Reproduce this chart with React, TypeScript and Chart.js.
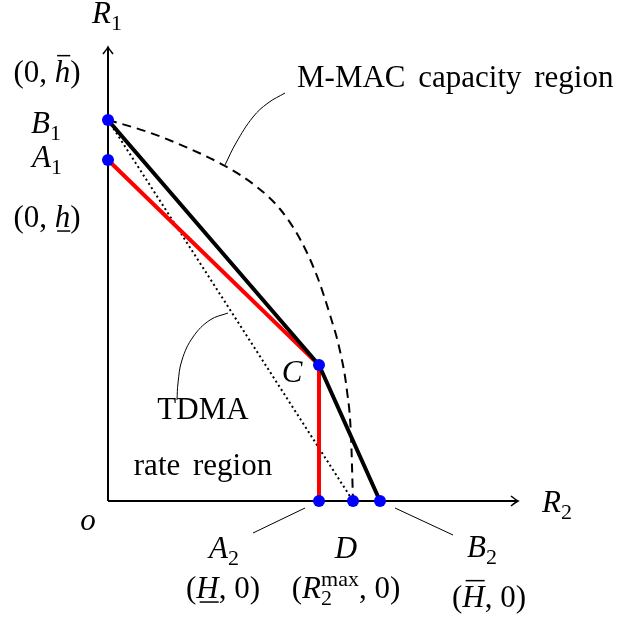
import React, { useEffect, useRef } from "react";
import { Chart, registerables } from "chart.js";

Chart.register(...registerables);

// Key points (diagram units: origin at o)
const pointNames = ["B1", "A1", "C", "A2", "D", "B2"];
const pointX = [0, 0, 211, 211, 245, 272];
const pointY = [381, 341, 136, 0, 0, 0];

// Sum-rate boundary (black): B1 -> C -> B2
const blackX = [0, 211, 272];
const blackY = [381, 136, 0];
// TDMA boundary (red): A1 -> C -> A2
const redX = [0, 211, 211];
const redY = [341, 136, 0];
// Dotted: B1 -> D
const dottedX = [0, 245];
const dottedY = [381, 0];
// M-MAC capacity region boundary (dashed)
const capX = [0, 40, 80, 117, 149, 172, 192, 209, 222, 232, 239, 243, 245];
const capY = [381, 369, 353, 335, 314, 292, 262, 225, 186, 150, 110, 65, 0];
// Axes
const axisXEnd = 410;
const axisYEnd = 454;
// Leader lines
const leaderMacX = [117, 128, 145, 160, 177];
const leaderMacY = [336, 358, 384, 398, 408];
const leaderTdmaX = [120, 102, 85, 74, 70, 69];
const leaderTdmaY = [188, 181, 164, 141, 118, 101];
const leaderA2X = [197, 145];
const leaderA2Y = [-7, -32];
const leaderB2X = [287, 345];
const leaderB2Y = [-7, -34];

type Part = { t: string; i?: boolean; sub?: boolean; sup?: boolean; over?: boolean; under?: boolean };

const labelParts: Part[][] = [
  [{ t: "R", i: true }, { t: "1", sub: true }],
  [{ t: "R", i: true }, { t: "2", sub: true }],
  [{ t: "o", i: true }],
  [{ t: "(0, " }, { t: "h", i: true, over: true }, { t: ")" }],
  [{ t: "B", i: true }, { t: "1", sub: true }],
  [{ t: "A", i: true }, { t: "1", sub: true }],
  [{ t: "(0, " }, { t: "h", i: true, under: true }, { t: ")" }],
  [{ t: "M-MAC capacity region" }],
  [{ t: "C", i: true }],
  [{ t: "TDMA" }],
  [{ t: "rate region" }],
  [{ t: "A", i: true }, { t: "2", sub: true }],
  [{ t: "D", i: true }],
  [{ t: "B", i: true }, { t: "2", sub: true }],
  [{ t: "(" }, { t: "H", i: true, under: true }, { t: ", 0)" }],
  [{ t: "(" }, { t: "R", i: true }, { t: "2", sub: true }, { t: "max", sup: true }, { t: ", 0)" }],
  [{ t: "(" }, { t: "H", i: true, over: true }, { t: ", 0)" }],
];
const labelX = [-1, 449, -20, -61, -62, -61, -61, 189, 184, 95, 95, 116, 238, 374, 115, 238, 381];
const labelY = [478, -11, -29, 419, 368, 334, 274, 414, 119, 82, 26, -57, -57, -56, -97, -97, -106];
const labelAlign = ["center", "center", "center", "center", "center", "center", "center", "left", "center", "center", "center", "center", "center", "center", "center", "center", "center"];
const labelWordSpacing = [0, 0, 0, 0, 0, 0, 0, 5, 0, 0, 5, 0, 0, 0, 0, 0, 0];

const FAM = '"Liberation Serif", "Times New Roman", serif';
const SIZE = 31;

function fontFor(p: Part) {
  const s = p.sub || p.sup ? Math.round(SIZE * 0.7) : SIZE;
  return `${p.i ? "italic " : ""}${s}px ${FAM}`;
}

function drawRich(ctx: CanvasRenderingContext2D, parts: Part[], x: number, y: number, align: string, ws: number) {
  (ctx as any).wordSpacing = `${ws}px`;
  const widths: number[] = [];
  let total = 0;
  parts.forEach((p, k) => {
    ctx.font = fontFor(p);
    const w = ctx.measureText(p.t).width;
    widths.push(w);
    const prev = parts[k - 1];
    if (p.sup && prev && prev.sub) {
      total += Math.max(0, w - widths[k - 1]);
    } else total += w;
  });
  let cx = align === "center" ? x - total / 2 : x;
  ctx.textBaseline = "alphabetic";
  ctx.textAlign = "left";
  ctx.fillStyle = "#000";
  ctx.strokeStyle = "#000";
  parts.forEach((p, k) => {
    ctx.font = fontFor(p);
    const w = widths[k];
    let dx = cx;
    const prev = parts[k - 1];
    const stacked = p.sup && prev && prev.sub;
    if (stacked) dx = cx - widths[k - 1];
    const dy = p.sub ? SIZE * 0.22 : p.sup ? -SIZE * 0.38 : 0;
    ctx.fillText(p.t, dx, y + dy);
    if (p.over || p.under) {
      ctx.lineWidth = 1.5;
      ctx.beginPath();
      const ly = p.over ? y - SIZE * 0.85 : y + SIZE * 0.13;
      ctx.moveTo(dx + w * 0.15, ly);
      ctx.lineTo(dx + w * 1.0, ly);
      ctx.stroke();
    }
    cx = stacked ? Math.max(cx, dx + w) : cx + w;
  });
  (ctx as any).wordSpacing = "0px";
}

const zip = (xs: number[], ys: number[]) => xs.map((x, k) => ({ x, y: ys[k] }));

export default function App() {
  const ref = useRef<HTMLCanvasElement | null>(null);
  useEffect(() => {
    if (!ref.current) return;
    const overlay = {
      id: "overlay",
      afterDatasetsDraw(chart: any) {
        const ctx = chart.ctx as CanvasRenderingContext2D;
        const xs = chart.scales.x;
        const ys = chart.scales.y;
        ctx.save();
        ctx.strokeStyle = "#000";
        ctx.lineWidth = 1.6;
        const tx = xs.getPixelForValue(0);
        const ty = ys.getPixelForValue(axisYEnd);
        ctx.beginPath();
        ctx.moveTo(tx - 5, ty + 7);
        ctx.quadraticCurveTo(tx - 1, ty + 2, tx, ty);
        ctx.quadraticCurveTo(tx + 1, ty + 2, tx + 5, ty + 7);
        ctx.stroke();
        const rx = xs.getPixelForValue(axisXEnd);
        const ry = ys.getPixelForValue(0);
        ctx.beginPath();
        ctx.moveTo(rx - 7, ry - 5);
        ctx.quadraticCurveTo(rx - 2, ry - 1, rx, ry);
        ctx.quadraticCurveTo(rx - 2, ry + 1, rx - 7, ry + 5);
        ctx.stroke();
        labelParts.forEach((parts, k) => {
          drawRich(ctx, parts, xs.getPixelForValue(labelX[k]), ys.getPixelForValue(labelY[k]), labelAlign[k], labelWordSpacing[k]);
        });
        ctx.restore();
      },
    };
    const lineDs = (data: any[], color: string, width: number, dash: number[], order: number, tension = 0, mono = false) => ({
      type: "line" as const,
      data,
      borderColor: color,
      borderWidth: width,
      borderDash: dash,
      pointRadius: 0,
      showLine: true,
      fill: false,
      tension,
      cubicInterpolationMode: mono ? ("monotone" as const) : ("default" as const),
      order,
      borderCapStyle: "butt" as const,
      borderJoinStyle: "miter" as const,
    });
    const chart = new Chart(ref.current, {
      type: "scatter",
      data: {
        datasets: [
          {
            label: "points",
            data: zip(pointX, pointY),
            backgroundColor: "#0000ff",
            borderColor: "#0000ff",
            borderWidth: 0,
            pointRadius: 6,
            showLine: false,
            order: 0,
          } as any,
          lineDs(zip(blackX, blackY), "#000", 4, [], 1),
          lineDs(zip(redX, redY), "#ff0000", 4, [], 2),
          lineDs(zip(dottedX, dottedY), "#000", 2, [2, 3], 3),
          lineDs(zip(capX, capY), "#000", 2, [9, 6], 4, 0.4, true),
          lineDs([{ x: 0, y: 0 }, { x: axisXEnd, y: 0 }], "#000", 2, [], 5),
          lineDs([{ x: 0, y: 0 }, { x: 0, y: axisYEnd }], "#000", 2, [], 5),
          lineDs(zip(leaderMacX, leaderMacY), "#000", 1, [], 6, 0.4),
          lineDs(zip(leaderTdmaX, leaderTdmaY), "#000", 1, [], 6, 0.4),
          lineDs(zip(leaderA2X, leaderA2Y), "#000", 1, [], 6),
          lineDs(zip(leaderB2X, leaderB2Y), "#000", 1, [], 6),
        ],
      },
      options: {
        animation: false,
        responsive: false,
        devicePixelRatio: 1,
        layout: { padding: 0, autoPadding: false },
        plugins: { legend: { display: false }, tooltip: { enabled: false } },
        scales: {
          x: { type: "linear", display: false, min: -108, max: 511 },
          y: { type: "linear", display: false, min: -120, max: 501 },
        },
      },
      plugins: [overlay],
    });
    return () => chart.destroy();
  }, []);
  return (
    <div style={{ position: "absolute", left: 0, top: 0, width: 619, height: 621, background: "#fff" }}>
      <canvas ref={ref} width={619} height={621} />
    </div>
  );
}
